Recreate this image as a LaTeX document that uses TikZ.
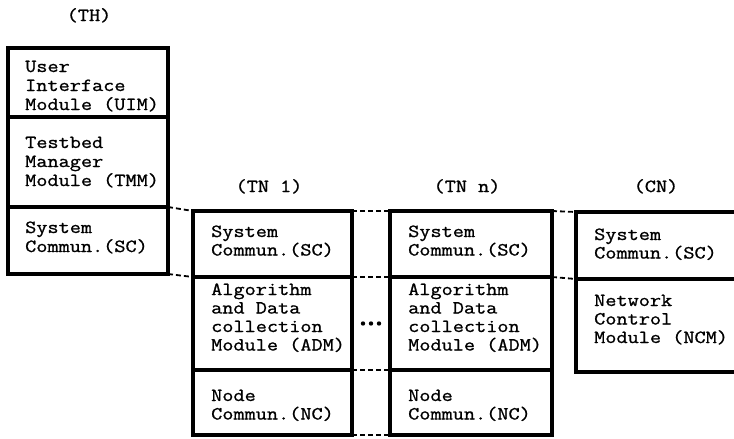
\documentclass[tikz,border=0pt]{standalone}
\usepackage{fontspec}
\usetikzlibrary{calc}
\newfontfamily\tw{Latin Modern Mono}[FakeStretch=1.17,FakeBold=1.0]
\newcommand\twfont{\tw\fontsize{18.5}{19}\selectfont}
% left-aligned lines whose first baseline is the box baseline
\newcommand\stk[2][18.5pt]{\vtop{\baselineskip=#1\lineskiplimit=-100pt\lineskip=0pt%
  \let\\\cr\halign{##\hfil\cr#2\crcr}}}
\begin{document}
\begin{tikzpicture}[x=1pt,y=-1pt,
  part/.style={draw, line width=3.2pt, inner sep=0pt, outer sep=0pt,
    anchor=north west, minimum width=#1},
  lbl/.style={font=\twfont, inner sep=0pt, anchor=base west},
  head/.style={font=\twfont, inner sep=0pt, anchor=base},
  link/.style={line width=1.8pt, dash pattern=on 5pt off 3pt}]
\useasboundingbox (0,0) rectangle (734,439);
\fill[white] (0,0) rectangle (734,439);

% test host (TH)
\node[part=160, minimum height=69] (thUIM) at (8,48) {};
\node[part=160, minimum height=90] (thTMM) at (8,117) {};
\node[part=160, minimum height=67] (thSC)  at (8,207) {};
% test node 1
\node[part=159, minimum height=66] (tnaSC)  at (193,211) {};
\node[part=159, minimum height=93] (tnaADM) at (193,277) {};
\node[part=159, minimum height=65] (tnaNC)  at (193,370) {};
% test node n
\node[part=162, minimum height=66] (tnbSC)  at (390,211) {};
\node[part=162, minimum height=93] (tnbADM) at (390,277) {};
\node[part=162, minimum height=65] (tnbNC)  at (390,370) {};
% control node (CN)
\node[part=170, minimum height=67] (cnSC)  at (576,212) {};
\node[part=170, minimum height=93] (cnNCM) at (576,279) {};

% headings
\node[head] (hTH) at (89,21) {(TH)};
\node[head] (hTNa) at (269,192) {(TN 1)};
\node[head] (hTNb) at (467,192) {(TN n)};
\node[head] (hCN) at (656,192) {(CN)};

% module texts
\node[lbl] (tUIM) at (25,72) {\stk[19pt]{User\\Interface\\Module (UIM)}};
\node[lbl] (tTMM) at (25,148) {\stk[19pt]{Testbed\\Manager\\Module (TMM)}};
\node[lbl] (tthSC) at (25,233) {\stk[19pt]{System\\Commun.(SC)}};
\node[lbl] (ttnaSC) at (211,237) {\stk{System\\Commun.(SC)}};
\node[lbl] (ttnaADM) at (211,295) {\stk{Algorithm\\and Data\\collection\\Module (ADM)}};
\node[lbl] (ttnaNC) at (211,401) {\stk{Node\\Commun.(NC)}};
\node[lbl] (ttnbSC) at (408,237) {\stk{System\\Commun.(SC)}};
\node[lbl] (ttnbADM) at (408,295) {\stk{Algorithm\\and Data\\collection\\Module (ADM)}};
\node[lbl] (ttnbNC) at (408,401) {\stk{Node\\Commun.(NC)}};
\node[lbl] (tcnSC) at (594,240) {\stk{System\\Commun.(SC)}};
\node[lbl] (tcnNCM) at (594,306) {\stk{Network\\Control\\Module (NCM)}};

% dashed links between the layers
\draw[link] (thSC.north east) -- (tnaSC.north west);
\draw[link] (thSC.south east) -- (tnaADM.north west);
\draw[link] (tnaSC.north east) -- (tnbSC.north west);
\draw[link] (tnaADM.north east) -- (tnbADM.north west);
\draw[link] (tnaNC.north east) -- (tnbNC.north west);
\draw[link] (tnaNC.south east) -- (tnbNC.south west);
\draw[link] (tnbSC.north east) -- (cnSC.north west);
\draw[link] (tnbADM.north east) -- (cnNCM.north west);

% ellipsis between test nodes
\coordinate (mid) at ($(tnaADM.east)!0.5!(tnbADM.west)$);
\foreach \dx in {-8,0,8}
  \fill ([xshift=\dx pt]mid) circle (2.2pt);
\end{tikzpicture}
\end{document}
